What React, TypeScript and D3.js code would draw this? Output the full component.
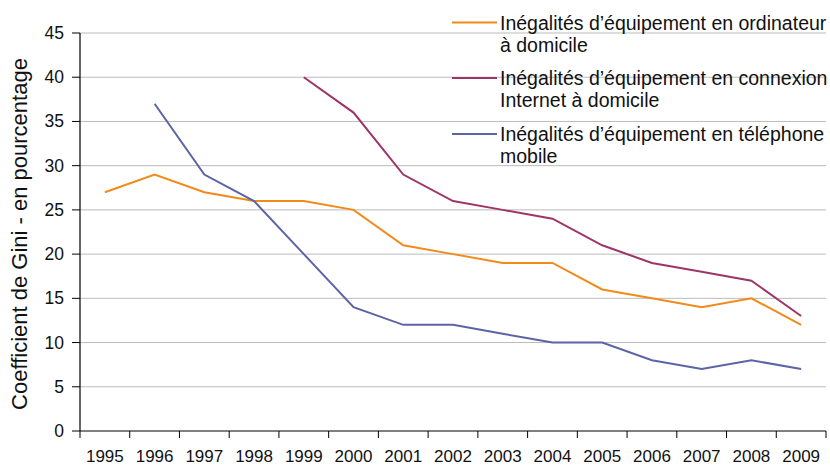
import React from "react";
import * as d3 from "d3";

const years = ["1995","1996","1997","1998","1999","2000","2001","2002","2003","2004","2005","2006","2007","2008","2009"];
const ordinateur: (number | null)[] = [27, 29, 27, 26, 26, 25, 21, 20, 19, 19, 16, 15, 14, 15, 12];
const internet: (number | null)[] = [null, null, null, null, 40, 36, 29, 26, 25, 24, 21, 19, 18, 17, 13];
const mobile: (number | null)[] = [null, 37, 29, 26, 20, 14, 12, 12, 11, 10, 10, 8, 7, 8, 7];
const yTicks = [0, 5, 10, 15, 20, 25, 30, 35, 40, 45];

const series = [
  { name: ["Inégalités d’équipement en ordinateur", "à domicile"], values: ordinateur, color: "#F28A1A" },
  { name: ["Inégalités d’équipement en connexion", "Internet à domicile"], values: internet, color: "#9C3568" },
  { name: ["Inégalités d’équipement en téléphone", "mobile"], values: mobile, color: "#5B64A6" },
];

const W = 830, H = 465;
const left = 80, right = 826, top = 33, bottom = 431;
const font = "'Liberation Sans', Arial, Helvetica, sans-serif";

export default function App() {
  const x = d3.scaleBand<string>().domain(years).range([left, right]).padding(0);
  const y = d3.scaleLinear().domain([0, 45]).range([bottom, top]);
  const line = d3
    .line<number | null>()
    .defined((d) => d != null)
    .x((_, i) => (x(years[i]) as number) + x.bandwidth() / 2)
    .y((d) => y(d as number));

  const legendBase = [29.5, 85, 141];

  return (
    <svg width={W} height={H} style={{ position: "absolute", left: 0, top: 0, background: "#fff" }} fontFamily={font}>
      {yTicks.map((t) => (
        <g key={t}>
          {t > 0 && <line x1={left} x2={right} y1={y(t)} y2={y(t)} stroke="#BBBBBB" strokeWidth={1} />}
          <line x1={left - 8} x2={left} y1={y(t)} y2={y(t)} stroke="#000" strokeWidth={1} />
          <text x={64} y={y(t) + 6} textAnchor="end" fontSize={17.5} fill="#111">{t}</text>
        </g>
      ))}
      <line x1={left} x2={left} y1={top} y2={bottom} stroke="#000" strokeWidth={1.2} />
      <line x1={left} x2={right} y1={bottom} y2={bottom} stroke="#000" strokeWidth={1.2} />
      {years.map((yr, i) => (
        <g key={yr}>
          <line x1={x(yr) as number} x2={x(yr) as number} y1={bottom} y2={bottom + 7} stroke="#000" strokeWidth={1} />
          {i === years.length - 1 && (
            <line x1={right} x2={right} y1={bottom} y2={bottom + 7} stroke="#000" strokeWidth={1} />
          )}
          <text x={(x(yr) as number) + x.bandwidth() / 2} y={461.5} textAnchor="middle" fontSize={17} fill="#111">{yr}</text>
        </g>
      ))}
      <text transform={`translate(27, 234) rotate(-90)`} textAnchor="middle" fontSize={22} fill="#111">
        Coefficient de Gini - en pourcentage
      </text>
      {series.map((s) => (
        <path key={s.color} d={line(s.values) || ""} fill="none" stroke={s.color} strokeWidth={2} />
      ))}
      {series.map((s, i) => (
        <g key={"l" + i}>
          <line x1={452} x2={497} y1={legendBase[i] - 7} y2={legendBase[i] - 7} stroke={s.color} strokeWidth={2} />
          <text x={500} y={legendBase[i]} fontSize={19.5} fill="#111">{s.name[0]}</text>
          <text x={500} y={legendBase[i] + 22} fontSize={19.5} fill="#111">{s.name[1]}</text>
        </g>
      ))}
    </svg>
  );
}
